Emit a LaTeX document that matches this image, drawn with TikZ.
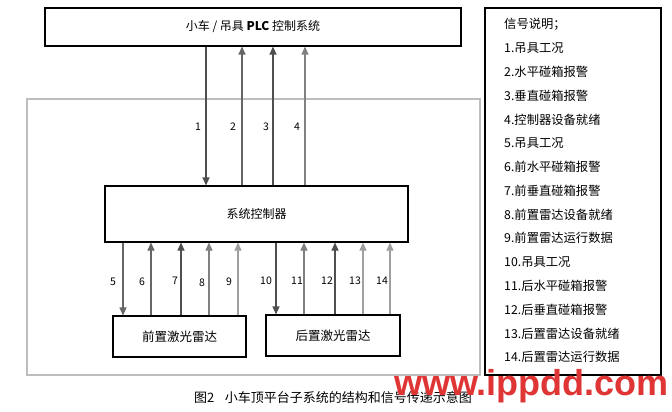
\documentclass[tikz,border=0pt]{standalone}
\usepackage{fontspec}
\newfontfamily\cjk{Noto Sans CJK SC}
\newfontfamily\wmfont{Liberation Sans}
\usetikzlibrary{arrows.meta}
\definecolor{gA}{HTML}{4F4F4F}
\definecolor{gB}{HTML}{666666}
\definecolor{gC}{HTML}{808080}
\definecolor{gD}{HTML}{A0A0A0}
\definecolor{frame}{HTML}{BDBDBD}
\definecolor{wmred}{HTML}{E03535}
\tikzset{
  box/.style={draw=black,line width=1.1pt,rectangle,inner sep=0pt,font=\cjk\fontsize{12}{14}\selectfont},
  arr/.style={line width=1.1pt,-{Triangle[width=7pt,length=8pt]}},
  num/.style={font=\cjk\fontsize{10.5}{12}\selectfont,inner sep=0pt},
  leg/.style={anchor=west,inner sep=0pt,font=\cjk\fontsize{12.3}{14}\selectfont}
}
\begin{document}
\begin{tikzpicture}[x=1pt,y=-1pt]
\useasboundingbox (0,0) rectangle (672,412);
\fill[white] (0,0) rectangle (672,412);
% outer gray frame
\draw[frame,line width=1.4pt] (27,99) rectangle (480,375);
% boxes
\node[box,minimum width=416pt,minimum height=38pt,font=\cjk\fontsize{12}{14}\selectfont] (plc) at (253,27) {小车 / 吊具 \textbf{PLC} 控制系统};
\node[box,minimum width=303pt,minimum height=56pt] (ctrl) at (256.5,214) {系统控制器};
\node[box,minimum width=133pt,minimum height=41pt,font=\cjk\fontsize{12.5}{14}\selectfont] (front) at (179.5,336.5) {前置激光雷达};
\node[box,minimum width=134pt,minimum height=41pt,font=\cjk\fontsize{12.5}{14}\selectfont] (rear) at (333,335.5) {后置激光雷达};
% legend
\node[draw=black,line width=1.1pt,rectangle,minimum width=176pt,minimum height=367pt,inner sep=0pt] (legend) at (573,191.5) {};
\node[leg] (l0) at (504,24) {信号说明；};
\node[leg] (l1) at (504,48) {1.吊具工况};
\node[leg] (l2) at (504,72) {2.水平碰箱报警};
\node[leg] (l3) at (504,96) {3.垂直碰箱报警};
\node[leg] (l4) at (504,120) {4.控制器设备就绪};
\node[leg] (l5) at (504,143) {5.吊具工况};
\node[leg] (l6) at (504,167) {6.前水平碰箱报警};
\node[leg] (l7) at (504,191) {7.前垂直碰箱报警};
\node[leg] (l8) at (504,215) {8.前置雷达设备就绪};
\node[leg] (l9) at (504,238) {9.前置雷达运行数据};
\node[leg] (l10) at (504,262) {10.吊具工况};
\node[leg] (l11) at (504,286) {11.后水平碰箱报警};
\node[leg] (l12) at (504,310) {12.后垂直碰箱报警};
\node[leg] (l13) at (504,334) {13.后置雷达设备就绪};
\node[leg] (l14) at (504,357) {14.后置雷达运行数据};
% x positions of connectors
\coordinate (x1) at (206,0);
\coordinate (x2) at (242,0);
\coordinate (x3) at (273,0);
\coordinate (x4) at (305,0);
\coordinate (x5) at (123,0);
\coordinate (x6) at (151,0);
\coordinate (x7) at (181,0);
\coordinate (x8) at (209,0);
\coordinate (x9) at (238,0);
\coordinate (x10) at (276,0);
\coordinate (x11) at (304,0);
\coordinate (x12) at (335,0);
\coordinate (x13) at (363,0);
\coordinate (x14) at (390,0);
% top connectors
\draw[arr,gA] (x1|-plc.south) -- (x1|-ctrl.north);
\draw[arr,gB] (x2|-ctrl.north) -- (x2|-plc.south);
\draw[arr,gA] (x3|-ctrl.north) -- (x3|-plc.south);
\draw[arr,gC] (x4|-ctrl.north) -- (x4|-plc.south);
% bottom connectors front
\draw[arr,gB] (x5|-ctrl.south) -- (x5|-front.north);
\draw[arr,gB] (x6|-front.north) -- (x6|-ctrl.south);
\draw[arr,gA] (x7|-front.north) -- (x7|-ctrl.south);
\draw[arr,gC] (x8|-front.north) -- (x8|-ctrl.south);
\draw[arr,gD] (x9|-front.north) -- (x9|-ctrl.south);
% bottom connectors rear
\draw[arr,gA] (x10|-ctrl.south) -- (x10|-rear.north);
\draw[arr,gC] (x11|-rear.north) -- (x11|-ctrl.south);
\draw[arr,gA] (x12|-rear.north) -- (x12|-ctrl.south);
\draw[arr,gD] (x13|-rear.north) -- (x13|-ctrl.south);
\draw[arr,gD] (x14|-rear.north) -- (x14|-ctrl.south);
% labels
\node[num] (n1) at (198,127) {1};
\node[num] (n2) at (233,127) {2};
\node[num] (n3) at (266,127) {3};
\node[num] (n4) at (297,127) {4};
\node[num] (n5) at (113,282) {5};
\node[num] (n6) at (142,282) {6};
\node[num] (n7) at (175,281) {7};
\node[num] (n8) at (202,283) {8};
\node[num] (n9) at (229,282) {9};
\node[num] (n10) at (266,281) {10};
\node[num] (n11) at (297,281) {11};
\node[num] (n12) at (327,281) {12};
\node[num] (n13) at (355,281) {13};
\node[num] (n14) at (382,281) {14};
% caption
\node[font=\cjk\fontsize{13}{15}\selectfont,anchor=west,inner sep=0pt] (cap) at (194,398) {图2\hspace{0.8em}小车顶平台子系统的结构和信号传递示意图};
% watermark
\node[font=\wmfont\bfseries\fontsize{36}{40}\selectfont,text=wmred,anchor=base west,inner sep=0pt] (wm) at (394,395) {www.ippdd.com};
\end{tikzpicture}
\end{document}
